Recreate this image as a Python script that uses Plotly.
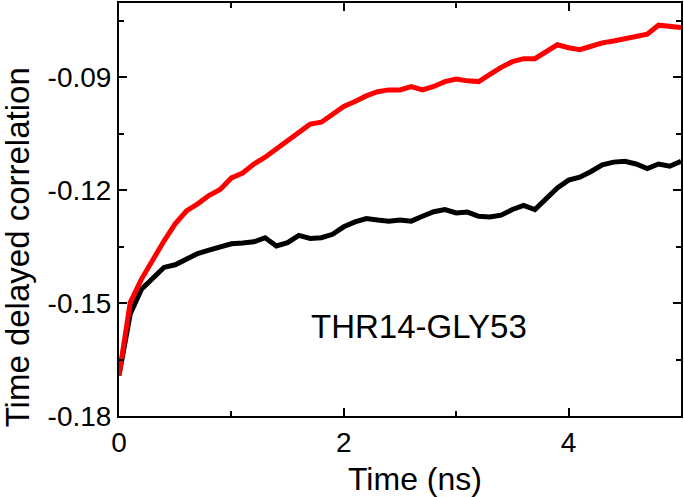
import plotly.graph_objects as go

time_ns = [0.0, 0.1, 0.2, 0.3, 0.4, 0.5, 0.6, 0.7, 0.8, 0.9,
           1.0, 1.1, 1.2, 1.3, 1.4, 1.5, 1.6, 1.7, 1.8, 1.9,
           2.0, 2.1, 2.2, 2.3, 2.4, 2.5, 2.6, 2.7, 2.8, 2.9,
           3.0, 3.1, 3.2, 3.3, 3.4, 3.5, 3.6, 3.7, 3.8, 3.9,
           4.0, 4.1, 4.2, 4.3, 4.4, 4.5, 4.6, 4.7, 4.8, 4.9, 5.0]

red_corr = [-0.1692, -0.1498, -0.1436, -0.1383, -0.1335, -0.1289, -0.1255, -0.1236, -0.1214, -0.1198,
            -0.1167, -0.1154, -0.1130, -0.1112, -0.1090, -0.1070, -0.1045, -0.1024, -0.1019, -0.0999,
            -0.0977, -0.0964, -0.0949, -0.0938, -0.0933, -0.0933, -0.0924, -0.0933, -0.0924, -0.0911,
            -0.0904, -0.0909, -0.0911, -0.0892, -0.0873, -0.0858, -0.0850, -0.0850, -0.0832, -0.0813,
            -0.0821, -0.0826, -0.0817, -0.0808, -0.0803, -0.0797, -0.0790, -0.0785, -0.0761, -0.0763, -0.0767]

black_corr = [-0.1692, -0.1529, -0.1463, -0.1432, -0.1405, -0.1398, -0.1383, -0.1368, -0.1359, -0.1351,
              -0.1342, -0.1340, -0.1337, -0.1326, -0.1348, -0.1339, -0.1320, -0.1328, -0.1326, -0.1317,
              -0.1297, -0.1284, -0.1275, -0.1279, -0.1282, -0.1279, -0.1282, -0.1269, -0.1257, -0.1251,
              -0.1260, -0.1258, -0.1269, -0.1271, -0.1266, -0.1251, -0.1240, -0.1251, -0.1224, -0.1194,
              -0.1173, -0.1165, -0.1150, -0.1132, -0.1125, -0.1123, -0.1130, -0.1142, -0.1130, -0.1136, -0.1123]

x_tick_vals = [0, 2, 4]
x_tick_text = ["0", "2", "4"]
y_tick_vals = [-0.18, -0.15, -0.12, -0.09]
y_tick_text = ["-0.18", "-0.15", "-0.12", "-0.09"]

FONT = "Liberation Sans, Arial, sans-serif"

fig = go.Figure()
fig.add_trace(go.Scatter(x=time_ns, y=black_corr, mode="lines",
                         line=dict(color="#000000", width=5), showlegend=False))
fig.add_trace(go.Scatter(x=time_ns, y=red_corr, mode="lines",
                         line=dict(color="#FF0000", width=5), showlegend=False))

axis_common = dict(showline=True, linecolor="black", linewidth=2, mirror="ticks",
                   ticks="inside", ticklen=8, tickwidth=1.5, tickcolor="black",
                   showgrid=False, zeroline=False,
                   tickfont=dict(family=FONT, size=28, color="black"))

fig.update_xaxes(range=[0, 5], tickvals=x_tick_vals, ticktext=x_tick_text,
                 minor=dict(ticks="inside", ticklen=5, tickwidth=1.5, tickcolor="black",
                            tick0=0, dtick=1),
                 **axis_common)
fig.update_yaxes(range=[-0.18, -0.0702], tickvals=y_tick_vals, ticktext=y_tick_text,
                 minor=dict(ticks="inside", ticklen=5, tickwidth=1.5, tickcolor="black",
                            tick0=-0.18, dtick=0.015),
                 **axis_common)

fig.add_annotation(text="Time (ns)", xref="paper", yref="paper", x=0.527, y=-0.152,
                   xanchor="center", yanchor="middle", showarrow=False,
                   font=dict(family=FONT, size=32, color="black"))
fig.add_annotation(text="Time delayed correlation", xref="paper", yref="paper",
                   x=-0.181, y=0.409, xanchor="center", yanchor="middle", textangle=-90,
                   showarrow=False, font=dict(family=FONT, size=33, color="black"))
fig.add_annotation(text="THR14-GLY53", xref="x", yref="y", x=2.67, y=-0.1563,
                   xanchor="center", yanchor="middle", showarrow=False,
                   font=dict(family=FONT, size=33, color="black"))

fig.update_layout(width=684, height=497, margin=dict(l=119, r=1, t=2, b=81),
                  paper_bgcolor="white", plot_bgcolor="white")

fig.write_html("out.html", config={"displayModeBar": False},
               post_script="document.body.style.margin='0';document.body.style.padding='0';"
                           "document.body.style.overflow='hidden';")
